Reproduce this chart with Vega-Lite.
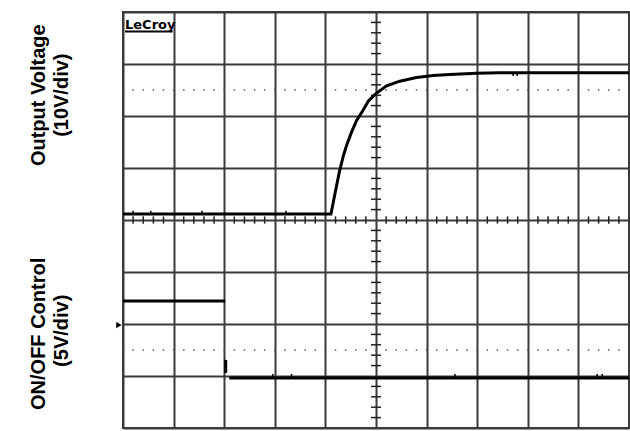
{
  "$schema": "https://vega.github.io/schema/vega-lite/v6.json",
  "width": 506,
  "height": 416,
  "autosize": "none",
  "padding": {"left": 123, "top": 12, "right": 1, "bottom": 3},
  "background": "white",
  "config": {"view": {"stroke": "#3a3a3a", "strokeWidth": 2}},
  "datasets": {
    "out": [
      {"x": 0, "y": 0.115}, {"x": 4.11, "y": 0.115}, {"x": 4.19, "y": 0.51}, {"x": 4.27, "y": 0.9},
      {"x": 4.35, "y": 1.22}, {"x": 4.42, "y": 1.44}, {"x": 4.52, "y": 1.7}, {"x": 4.62, "y": 1.92},
      {"x": 4.75, "y": 2.12}, {"x": 4.85, "y": 2.29}, {"x": 5.01, "y": 2.44}, {"x": 5.21, "y": 2.58},
      {"x": 5.47, "y": 2.67}, {"x": 5.8, "y": 2.74}, {"x": 6.13, "y": 2.78}, {"x": 6.46, "y": 2.8},
      {"x": 6.99, "y": 2.82}, {"x": 7.45, "y": 2.83}, {"x": 10, "y": 2.83}
    ],
    "ctrl": [
      {"s": 1, "x": 0, "y": -1.56}, {"s": 1, "x": 2.02, "y": -1.56},
      {"s": 2, "x": 2.03, "y": -2.69}, {"s": 2, "x": 2.03, "y": -2.94},
      {"s": 3, "x": 2.1, "y": -3.04}, {"s": 3, "x": 10, "y": -3.04}
    ],
    "spikes": [
      {"x": 0.2, "y": 0.115, "y2": 0.18}, {"x": 0.55, "y": 0.115, "y2": 0.18}, {"x": 1.56, "y": 0.115, "y2": 0.18}, {"x": 3.22, "y": 0.115, "y2": 0.18},
      {"x": 2.96, "y": -3.04, "y2": -2.96}, {"x": 3.33, "y": -3.04, "y2": -2.96}, {"x": 6.56, "y": -3.04, "y2": -2.96}, {"x": 9.37, "y": -3.04, "y2": -2.96}, {"x": 9.47, "y": -3.04, "y2": -2.96},
      {"x": 7.71, "y": 2.83, "y2": 2.77}, {"x": 7.79, "y": 2.83, "y2": 2.77}
    ],
    "hticks": [
      {"x": 0.2}, {"x": 0.4}, {"x": 0.6}, {"x": 0.8}, {"x": 1.2}, {"x": 1.4}, {"x": 1.6}, {"x": 1.8},
      {"x": 2.2}, {"x": 2.4}, {"x": 2.6}, {"x": 2.8}, {"x": 3.2}, {"x": 3.4}, {"x": 3.6}, {"x": 3.8},
      {"x": 4.2}, {"x": 4.4}, {"x": 4.6}, {"x": 4.8}, {"x": 5.2}, {"x": 5.4}, {"x": 5.6}, {"x": 5.8},
      {"x": 6.2}, {"x": 6.4}, {"x": 6.6}, {"x": 6.8}, {"x": 7.2}, {"x": 7.4}, {"x": 7.6}, {"x": 7.8},
      {"x": 8.2}, {"x": 8.4}, {"x": 8.6}, {"x": 8.8}, {"x": 9.2}, {"x": 9.4}, {"x": 9.6}, {"x": 9.8}
    ],
    "vticks": [
      {"y": -3.8}, {"y": -3.6}, {"y": -3.4}, {"y": -3.2}, {"y": -2.8}, {"y": -2.6}, {"y": -2.4}, {"y": -2.2},
      {"y": -1.8}, {"y": -1.6}, {"y": -1.4}, {"y": -1.2}, {"y": -0.8}, {"y": -0.6}, {"y": -0.4}, {"y": -0.2},
      {"y": 0.2}, {"y": 0.4}, {"y": 0.6}, {"y": 0.8}, {"y": 1.2}, {"y": 1.4}, {"y": 1.6}, {"y": 1.8},
      {"y": 2.2}, {"y": 2.4}, {"y": 2.6}, {"y": 2.8}, {"y": 3.2}, {"y": 3.4}, {"y": 3.6}, {"y": 3.8}
    ],
    "dots": [{"y": 2.5}, {"y": -2.5}],
    "labels": [
      {"x": -1.66, "y": 2.4, "t": "Output Voltage"},
      {"x": -1.21, "y": 2.4, "t": "(10V/div)"},
      {"x": -1.66, "y": -2.19, "t": "ON/OFF Control"},
      {"x": -1.21, "y": -2.13, "t": "(5V/div)"}
    ],
    "brand": [{"x": 0.04, "y": 3.68, "x2": 0.98, "yu": 3.625, "t": "LeCroy"}],
    "marker": [{"x": -0.08, "y": -2.02}]
  },
  "layer": [
    {
      "data": {"name": "dots"},
      "mark": {"type": "rule", "stroke": "#555", "strokeWidth": 1.5, "strokeDash": [1.5, 8.62], "strokeDashOffset": 0.75},
      "encoding": {
        "x": {"datum": 0, "type": "quantitative", "scale": {"domain": [0, 10], "nice": false, "zero": false},
          "axis": {"values": [0,1,2,3,4,5,6,7,8,9,10], "grid": true, "gridColor": "#3a3a3a", "gridWidth": 2, "labels": false, "ticks": false, "domain": false, "title": null}},
        "x2": {"datum": 10},
        "y": {"field": "y", "type": "quantitative", "scale": {"domain": [-4, 4], "nice": false, "zero": false},
          "axis": {"values": [-4,-3,-2,-1,0,1,2,3,4], "grid": true, "gridColor": "#3a3a3a", "gridWidth": 2, "labels": false, "ticks": false, "domain": false, "title": null}}
      }
    },
    {
      "data": {"name": "hticks"},
      "mark": {"type": "rule", "stroke": "#222", "strokeWidth": 1.5},
      "encoding": {
        "x": {"field": "x", "type": "quantitative"},
        "y": {"datum": -0.07},
        "y2": {"datum": 0.07}
      }
    },
    {
      "data": {"name": "vticks"},
      "mark": {"type": "rule", "stroke": "#222", "strokeWidth": 1.5},
      "encoding": {
        "y": {"field": "y", "type": "quantitative"},
        "x": {"datum": 4.9},
        "x2": {"datum": 5.1}
      }
    },
    {
      "data": {"name": "out"},
      "mark": {"type": "line", "color": "black", "strokeWidth": 3},
      "encoding": {
        "x": {"field": "x", "type": "quantitative"},
        "y": {"field": "y", "type": "quantitative"}
      }
    },
    {
      "data": {"name": "ctrl"},
      "mark": {"type": "line", "color": "black", "strokeWidth": 3},
      "encoding": {
        "x": {"field": "x", "type": "quantitative"},
        "y": {"field": "y", "type": "quantitative"},
        "detail": {"field": "s", "type": "nominal"}
      }
    },
    {
      "data": {"name": "spikes"},
      "mark": {"type": "rule", "color": "black", "strokeWidth": 1.5},
      "encoding": {
        "x": {"field": "x", "type": "quantitative"},
        "y": {"field": "y", "type": "quantitative"},
        "y2": {"field": "y2"}
      }
    },
    {
      "data": {"name": "labels"},
      "mark": {"type": "text", "angle": 270, "align": "center", "baseline": "middle", "font": "Liberation Sans", "fontWeight": "bold", "fontSize": 20, "color": "black"},
      "encoding": {
        "x": {"field": "x", "type": "quantitative"},
        "y": {"field": "y", "type": "quantitative"},
        "text": {"field": "t"}
      }
    },
    {
      "data": {"name": "brand"},
      "mark": {"type": "text", "align": "left", "baseline": "alphabetic", "font": "DejaVu Sans", "fontWeight": "bold", "fontSize": 13, "color": "black"},
      "encoding": {
        "x": {"field": "x", "type": "quantitative"},
        "y": {"field": "y", "type": "quantitative"},
        "text": {"field": "t"}
      }
    },
    {
      "data": {"name": "brand"},
      "mark": {"type": "rule", "color": "black", "strokeWidth": 2},
      "encoding": {
        "x": {"field": "x", "type": "quantitative"},
        "x2": {"field": "x2"},
        "y": {"field": "yu", "type": "quantitative"}
      }
    },
    {
      "data": {"name": "marker"},
      "mark": {"type": "point", "shape": "triangle-right", "filled": true, "color": "black", "size": 40, "opacity": 1},
      "encoding": {
        "x": {"field": "x", "type": "quantitative"},
        "y": {"field": "y", "type": "quantitative"}
      }
    }
  ]
}
